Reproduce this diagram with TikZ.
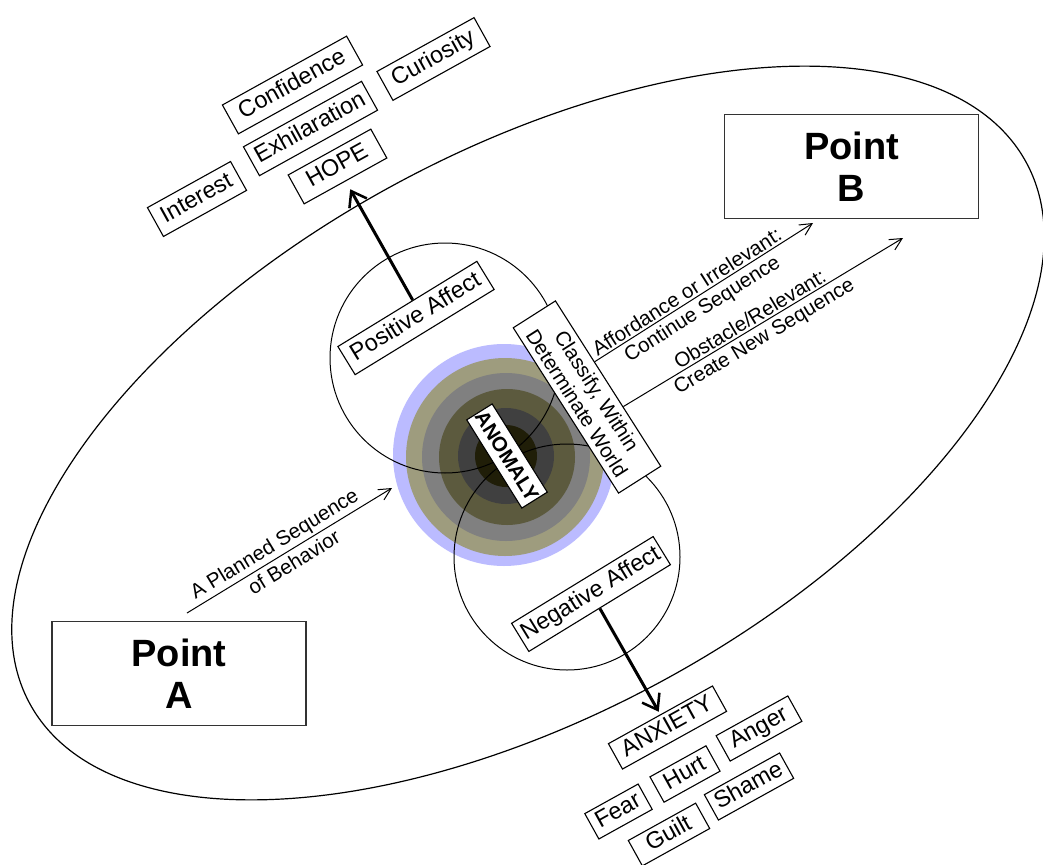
\documentclass[tikz,border=0pt]{standalone}
\usepackage{fontspec}
\setmainfont{Liberation Sans}
\usetikzlibrary{arrows.meta,calc}
\definecolor{ringA}{RGB}{187,187,255}
\definecolor{ringB}{RGB}{158,156,126}
\definecolor{ringC}{RGB}{128,128,128}
\definecolor{ringD}{RGB}{92,90,62}
\definecolor{ringE}{RGB}{64,64,64}
\definecolor{ringF}{RGB}{32,30,8}
\definecolor{boxline}{RGB}{51,51,51}
\begin{document}
\begin{tikzpicture}[x=1pt,y=-1pt,
  tagbase/.style={draw, fill=white, line width=1.1pt, inner xsep=2pt, inner ysep=1pt,
    font=\fontsize{23.5}{26}\selectfont, text height=17pt, text depth=5pt, minimum height=33pt},
  tag/.style={tagbase, rotate=29},
  tagsm/.style={tagbase, minimum height=29pt, rotate=29},
  affect/.style={tagbase, rotate=31.5},
  pointbox/.style={draw=boxline, line width=1.8pt, fill=white, minimum width=254pt,
    minimum height=104pt, align=center, font=\fontsize{38}{42}\selectfont\bfseries},
  arrlbl/.style={font=\fontsize{20.5}{22}\selectfont, sloped, inner sep=2pt},
  arrlblb/.style={arrlbl, inner sep=4pt},
  thinarrow/.style={line width=1pt, -{Straight Barb[length=12pt,width=12pt,line width=1pt]}},
  boldarrow/.style={line width=3pt, -{Straight Barb[length=14pt,width=20pt,line width=2.5pt]}},
  ]
\fill[white] (0,0) rectangle (1043,864);
\useasboundingbox (0,0) rectangle (1043,864);

% big ellipse
\draw[line width=1.2pt, rotate around={28.5:(528,433)}] (528,433) ellipse [x radius=567pt, y radius=282pt];

% anomaly rings
\fill[ringA] (504,455) circle [radius=111pt];
\fill[ringB] (505,457) circle [radius=99pt];
\fill[ringC] (506,457) circle [radius=84pt];
\fill[ringD] (507,457) circle [radius=68pt];
\fill[ringE] (506,456) circle [radius=48pt];
\fill[ringF] (506,456) circle [radius=31pt];

% affect circles
\draw[line width=1pt] (445,358) circle [radius=115pt];
\draw[line width=1pt] (567,557) circle [radius=113pt];

% points
\node[pointbox] (ptA) at (179,673.5) {Point\\A};
\node[pointbox] (ptB) at (851.5,166.5) {Point\\B};

% affect boxes
\node[affect, minimum width=163pt] (pos) at (416,318) {Positive Affect};
\node[affect, minimum width=166pt] (neg) at (591,594) {Negative Affect};

% classify box
\node[draw, fill=white, line width=1.1pt, rotate=-57.5, minimum width=196pt, minimum height=50pt,
  align=center, inner sep=1pt, font=\fontsize{20.5}{23.5}\selectfont] (cls) at (587,397)
  {Classify, Within\\Determinate World};

% anomaly box
\node[draw, fill=white, line width=1.1pt, rotate=-58, minimum width=104pt, minimum height=30pt,
  inner sep=1pt, font=\fontsize{20.5}{22}\selectfont\bfseries] (anom) at (507,456) {ANOMALY};

% positive emotions
\node[tag, minimum width=94.5pt] (hope) at (337.5,166.5) {HOPE};
\node[tag, minimum width=135pt] (exh) at (310.5,128.5) {Exhilaration};
\node[tag, minimum width=142pt] (conf) at (292.5,85) {Confidence};
\node[tag, minimum width=111pt] (cur) at (433.5,59) {Curiosity};
\node[tag, minimum width=95pt] (int) at (197,199) {Interest};

% negative emotions
\node[tagsm, minimum width=119pt] (anx) at (667.5,727.5) {ANXIETY};
\node[tagsm, minimum width=82pt] (ang) at (759,728.5) {Anger};
\node[tagsm, minimum width=64pt] (hurt) at (685,774) {Hurt};
\node[tagsm, minimum width=61pt] (fear) at (618.5,811.5) {Fear};
\node[tagsm, minimum width=86pt] (shame) at (749,786.5) {Shame};
\node[tagsm, minimum width=77pt] (guilt) at (669,834.5) {Guilt};

% bold arrows
\draw[boldarrow, shorten >=9pt] ($(pos.north west)!0.54!(pos.north east)$) -- (hope.south);
\draw[boldarrow, shorten >=3pt] (neg.south) -- (anx.north);

% thin arrows
\coordinate (pl0) at (187,613);
\coordinate (pl1) at (392,488);
\draw[thinarrow] (pl0) -- node[arrlbl, above, pos=0.46] {A Planned Sequence}
  node[arrlblb, below, pos=0.49] {of Behavior} (pl1);

\coordinate (e1) at (813,223);
\coordinate (e2) at (903,238);
\draw[thinarrow] ($(cls.north west)!0.37!(cls.north east)$) --
  node[arrlbl, above, pos=0.445] {Affordance or Irrelevant:}
  node[arrlblb, below, pos=0.46] {Continue Sequence} (e1);
\draw[thinarrow] ($(cls.north west)!0.64!(cls.north east)$) --
  node[arrlbl, above, pos=0.47] {Obstacle/Relevant:}
  node[arrlblb, below, pos=0.48] {Create New Sequence} (e2);
\end{tikzpicture}
\end{document}
